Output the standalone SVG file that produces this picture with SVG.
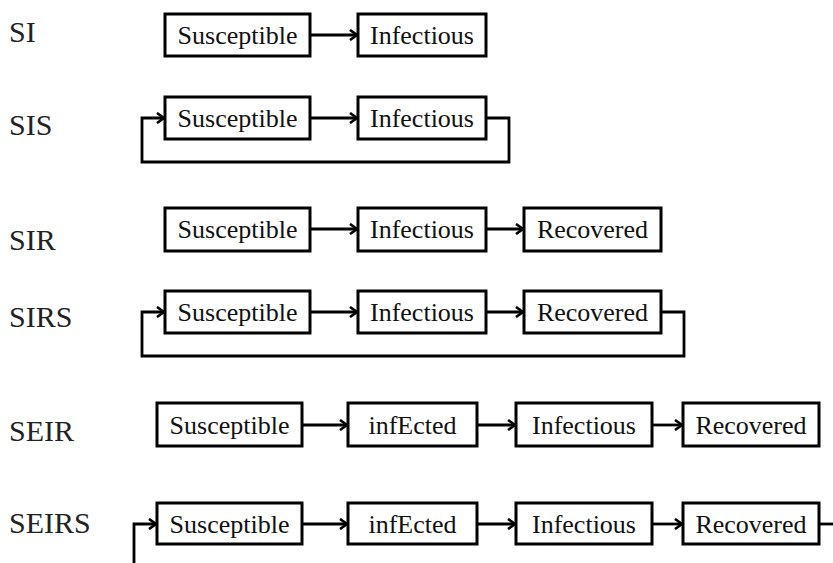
<svg xmlns="http://www.w3.org/2000/svg" width="833" height="563" viewBox="0 0 833 563">
<defs>
<marker id="ah" markerWidth="12" markerHeight="12" refX="9" refY="6" orient="auto" markerUnits="userSpaceOnUse">
<path d="M2,1 L9,6 L2,11" fill="none" stroke="#000" stroke-width="2.6"/>
</marker>
<style>
.box{fill:#fff;stroke:#000;stroke-width:3}
.t{font-family:'Liberation Serif','DejaVu Serif',serif;font-size:26px;fill:#111;text-anchor:middle}
.lbl{font-family:'Liberation Serif','DejaVu Serif',serif;font-size:30px;fill:#222}
.c{fill:none;stroke:#000;stroke-width:2.8}
.a{marker-end:url(#ah)}
</style>
</defs>
<rect width="833" height="563" fill="#fff"/>
<g id="labels">
<text class="lbl" x="9" y="42">SI</text>
<text class="lbl" x="9" y="135">SIS</text>
<text class="lbl" x="9" y="250">SIR</text>
<text class="lbl" x="9" y="327">SIRS</text>
<text class="lbl" x="9" y="441">SEIR</text>
<text class="lbl" x="9" y="533">SEIRS</text>
</g>
<g id="connectors">
<path class="c a" d="M310,35 H357"/>
<path class="c a" d="M310,118 H357"/>
<path class="c a" d="M486,118 H509 V162 H142 V118 H164"/>
<path class="c a" d="M310,229 H357"/>
<path class="c a" d="M486,229 H523"/>
<path class="c a" d="M310,312 H357"/>
<path class="c a" d="M486,312 H523"/>
<path class="c a" d="M661,312 H684 V356 H142 V312 H164"/>
<path class="c a" d="M302,425 H347"/>
<path class="c a" d="M477,425 H515"/>
<path class="c a" d="M652,425 H682"/>
<path class="c a" d="M302,524 H347"/>
<path class="c a" d="M477,524 H515"/>
<path class="c a" d="M652,524 H682"/>
<path class="c" d="M819,524 H833"/>
<path class="c a" d="M134,563 V524 H156"/>
</g>
<g id="si-s"><rect class="box" x="165" y="14" width="145" height="42"/><text class="t" x="237.5" y="44">Susceptible</text></g>
<g id="si-i"><rect class="box" x="358" y="14" width="128" height="42"/><text class="t" x="422" y="44">Infectious</text></g>
<g id="sis-s"><rect class="box" x="165" y="97" width="145" height="42"/><text class="t" x="237.5" y="127">Susceptible</text></g>
<g id="sis-i"><rect class="box" x="358" y="97" width="128" height="42"/><text class="t" x="422" y="127">Infectious</text></g>
<g id="sir-s"><rect class="box" x="165" y="208" width="145" height="43"/><text class="t" x="237.5" y="238">Susceptible</text></g>
<g id="sir-i"><rect class="box" x="358" y="208" width="128" height="43"/><text class="t" x="422" y="238">Infectious</text></g>
<g id="sir-r"><rect class="box" x="524" y="208" width="137" height="43"/><text class="t" x="592.5" y="238">Recovered</text></g>
<g id="sirs-s"><rect class="box" x="165" y="291" width="145" height="42"/><text class="t" x="237.5" y="321">Susceptible</text></g>
<g id="sirs-i"><rect class="box" x="358" y="291" width="128" height="42"/><text class="t" x="422" y="321">Infectious</text></g>
<g id="sirs-r"><rect class="box" x="524" y="291" width="137" height="42"/><text class="t" x="592.5" y="321">Recovered</text></g>
<g id="seir-s"><rect class="box" x="157" y="403" width="145" height="43"/><text class="t" x="229.5" y="434">Susceptible</text></g>
<g id="seir-e"><rect class="box" x="348" y="403" width="129" height="43"/><text class="t" x="412.5" y="434">infEcted</text></g>
<g id="seir-i"><rect class="box" x="516" y="403" width="136" height="43"/><text class="t" x="584" y="434">Infectious</text></g>
<g id="seir-r"><rect class="box" x="683" y="403" width="136" height="43"/><text class="t" x="751" y="434">Recovered</text></g>
<g id="seirs-s"><rect class="box" x="157" y="503" width="145" height="41"/><text class="t" x="229.5" y="533">Susceptible</text></g>
<g id="seirs-e"><rect class="box" x="348" y="503" width="129" height="41"/><text class="t" x="412.5" y="533">infEcted</text></g>
<g id="seirs-i"><rect class="box" x="516" y="503" width="136" height="41"/><text class="t" x="584" y="533">Infectious</text></g>
<g id="seirs-r"><rect class="box" x="683" y="503" width="136" height="41"/><text class="t" x="751" y="533">Recovered</text></g>
</svg>
